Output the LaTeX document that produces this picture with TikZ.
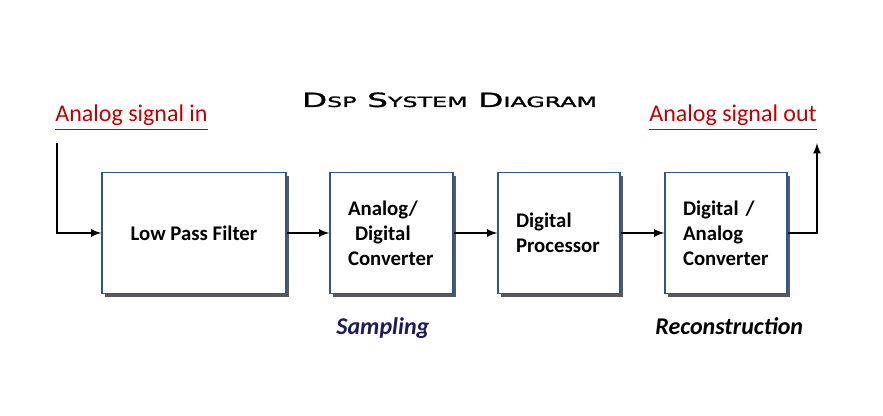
\documentclass[tikz,border=0pt]{standalone}
\usepackage{fontspec}
\setmainfont{Carlito}
\newfontfamily\titlefont[FakeBold=1.2]{DejaVu Sans}
\usepackage{tikz}
\usetikzlibrary{arrows}
\usetikzlibrary{shadows}

\definecolor{sigred}{RGB}{192,0,0}
\definecolor{boxblue}{RGB}{46,84,150}
\definecolor{navy}{RGB}{28,28,90}

\newcommand{\capsize}{\fontsize{9.8}{10}\selectfont}
\newcommand{\lowsize}{\fontsize{7.1}{7}\selectfont}

\tikzset{
  block/.style={draw=boxblue, line width=0.6pt, fill=white, minimum height=60.5pt,
    drop shadow={shadow xshift=1.6pt, shadow yshift=-1.6pt, fill=black!65, opacity=1},
    font=\bfseries\fontsize{10.4}{12.6}\selectfont},
  signal/.style={line width=0.8pt, -latex},
  siglabel/.style={text=sigred, font=\fontsize{12}{14}\selectfont, inner sep=0pt},
  stage/.style={font=\bfseries\itshape\fontsize{12}{14}\selectfont, inner sep=0pt}
}

\begin{document}
\begin{tikzpicture}[x=0.5pt, y=-0.5pt]
          \useasboundingbox (0,0) rectangle (883,416);
          % title
          \node[anchor=base, inner sep=0pt] (title) at (449.5,107)
            {\resizebox{147.5pt}{\height}{\titlefont{\capsize D}{\lowsize SP} {\capsize S}{\lowsize YSTEM} {\capsize D}{\lowsize IAGRAM}}};
          % signal labels
          \node[siglabel, anchor=base west] (inlabel) at (55,122) {\underline{Analog signal in}};
          \node[siglabel, anchor=base west] (outlabel) at (649,122) {\underline{Analog signal out}};
          % blocks
          \node[block, minimum width=92pt, align=center] (lpf) at (194,233) {Low Pass Filter};
          \node[block, text width=43.5pt, inner xsep=9pt, align=left] (adc) at (391.5,233) {Analog/\\\hspace{3.5pt}Digital\\Converter};
          \node[block, text width=43pt, inner xsep=9pt, align=left] (dsp) at (559,233) {Digital\\Processor};
          \node[block, text width=43pt, inner xsep=9pt, align=left] (dac) at (726,233) {Digital /\\Analog\\Converter};
          % stage names
          \node[stage, text=navy, anchor=base west] (sampling) at (336,335) {Sampling};
          \node[stage, anchor=base west] (recon) at (655,335) {Reconstruction};
          % signal path
          \coordinate (in) at (57,143);
          \coordinate (out) at (817,143);
          \draw[signal] (in) |- (lpf.west);
          \draw[signal] (lpf) -- (adc);
          \draw[signal] (adc) -- (dsp);
          \draw[signal] (dsp) -- (dac);
          \draw[signal] (dac.east) -| (out);
        \end{tikzpicture}
\end{document}
